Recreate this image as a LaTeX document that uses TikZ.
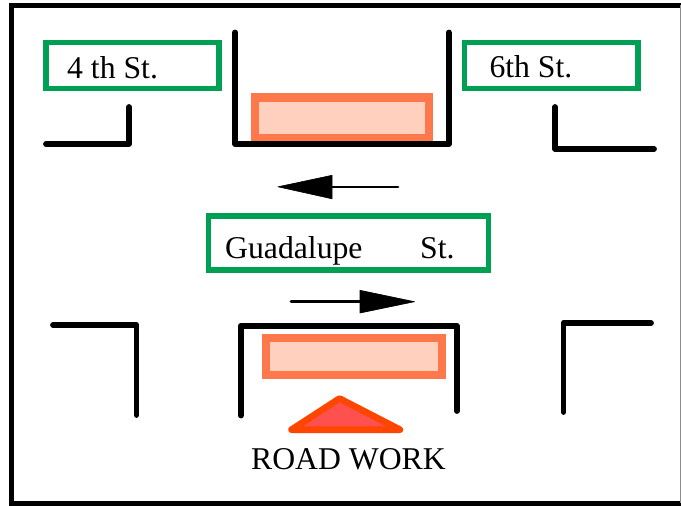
\documentclass[tikz,border=0pt]{standalone}
\usepackage{fontspec}
\setmainfont{Liberation Serif}
\definecolor{signgreen}{RGB}{0,160,84}
\definecolor{barrierorange}{RGB}{255,120,75}
\definecolor{barrierfill}{RGB}{255,208,190}
\definecolor{workred}{RGB}{255,70,0}
\definecolor{workfill}{RGB}{255,80,80}
\tikzset{
  x=1pt,y=-1pt,
  road/.style={draw=black,line width=5.8pt,line cap=round,line join=round},
  frameline/.style={draw=black,line width=5.6pt},
  signbox/.style={draw=signgreen,line width=5.6pt},
  textlabel/.style={font=\fontsize{31.7}{34}\selectfont,text=black,inner sep=0pt,anchor=base west},
  barrier/.style={draw=barrierorange,line width=8.4pt,fill=barrierfill},
  flow/.style={draw=black,line width=2.8pt,line cap=round},
  head/.style={fill=black,draw=black,line width=0.6pt,line join=round},
}
\begin{document}
\begin{tikzpicture}
\useasboundingbox (0,0) rectangle (681,506);
\fill[white] (0,0) rectangle (681,506);
% frame
\draw[frameline] (681,5.5) -- (11.5,5.5) -- (11.5,503.5) -- (681,503.5);
\draw[draw=black!45,line width=1pt] (680.5,5) -- (680.5,503);
% signs
\draw[signbox] (45.8,42.5) rectangle (219.2,88.3);
\draw[signbox] (464.5,42.5) rectangle (638.2,88.5);
\draw[signbox] (208.5,216.2) rectangle (488.5,269.8);
\node[textlabel] (l4) at (67,78.3) {4 th St.};
\node[textlabel] (l6) at (489.3,77.8) {6th St.};
\node[textlabel] (lg) at (225,258.5) {Guadalupe};
\node[textlabel] (lst) at (420,258.5) {St.};
% upper barrier and kerb
\draw[barrier] (255.2,97.5) rectangle (428.7,138);
\draw[barrierorange,line width=6pt] (251,141) -- (432.7,141);
\draw[road] (235.3,32.5) -- (235.3,144.3) -- (448.7,144.3) -- (448.7,32.5);
% lower barrier and kerb
\draw[barrier] (266,338) rectangle (442,375);
\draw[road] (240.7,415.5) -- (240.7,325.7) -- (456.8,325.7) -- (456.8,411);
% corners
\draw[road] (46,144) -- (129,144) -- (129,107);
\draw[road] (555,107) -- (555,149) -- (654,149);
\draw[road] (53,325) -- (136.5,325) -- (136.5,415);
\draw[road] (563.5,412) -- (563.5,323) -- (651,323);
% arrows
\draw[flow] (398,187) -- (330,187);
\fill[head] (278,186.8) -- (332,175.3) -- (332,198.8) -- cycle;
\draw[flow] (291,301.7) -- (362,301.7);
\fill[head] (414.5,301.7) -- (360,290.3) -- (360,313) -- cycle;
% road work
\draw[draw=workred,fill=workfill,line width=6.6pt,line join=round] (339.5,398.5) -- (400,429.7) -- (291.5,429.7) -- cycle;
\node[textlabel] (lw) at (251,469.3) {ROAD WORK};
\end{tikzpicture}
\end{document}
